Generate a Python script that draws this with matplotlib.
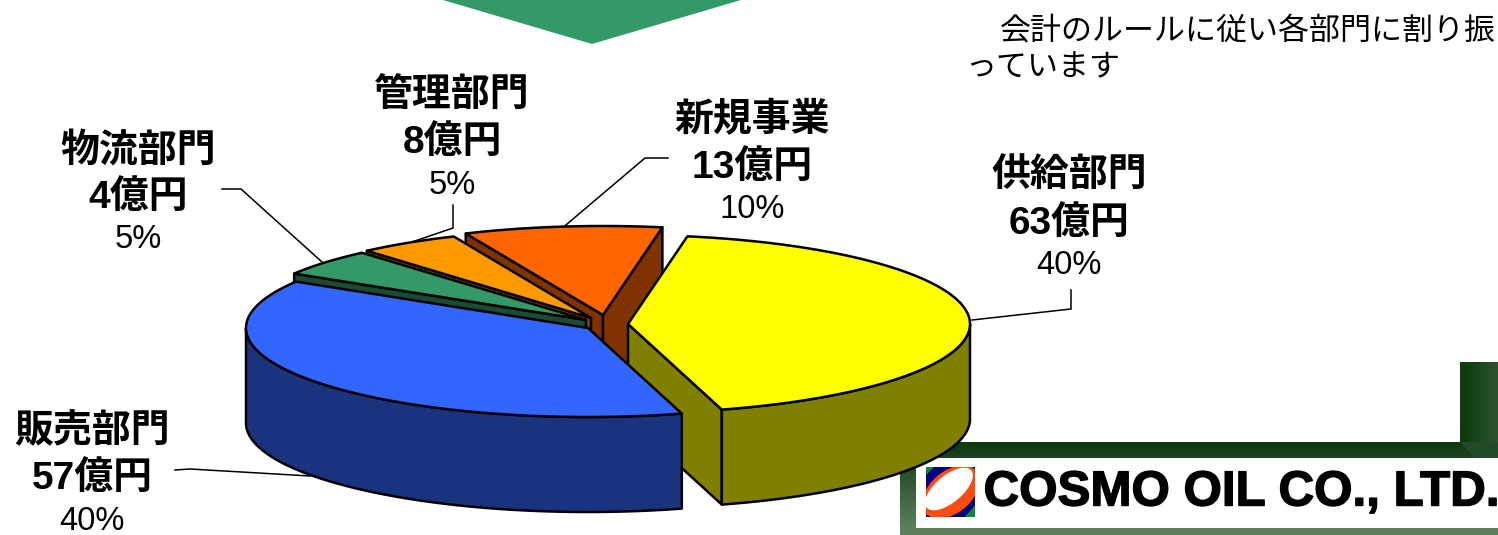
import numpy as np
import matplotlib
matplotlib.use("Agg")
import matplotlib.pyplot as plt
import matplotlib.patheffects as pe
from matplotlib.patches import Polygon, Rectangle, Ellipse

# --- data ---
names = ["供給部門", "販売部門", "物流部門", "管理部門", "新規事業"]
amounts = [63, 57, 4, 8, 13]
pct_labels = ["40%", "40%", "5%", "5%", "10%"]
slice_shares = [42.8, 38.15, 4.9, 4.8, 9.35]   # shares as drawn in the picture
note_lines = ["会計のルールに従い各部門に割り振", "っています"]
logo_text = "COSMO OIL CO., LTD."

# --- style / layout ---
top_cols = ["#FFFF00", "#3366FF", "#339966", "#FF9900", "#FF6600"]
side_cols = ["#808000", "#1A337F", "#1A4C33", "#804C00", "#803300"]
offsets = [(20, 2), (-20, 6), (-22, -2), (-17, -4), (-5, -7)]
label_xy = [(1069, 177), (92, 432), (138, 151), (452, 96), (752, 121)]
leaders = [[(1071, 290), (1071, 309), (972, 320)],
           [(175, 470), (190, 469), (310, 476)],
           [(222, 189), (241, 189), (322, 262)],
           [(453, 205), (453, 228), (409, 243)],
           [(668, 158), (645, 158), (560, 230)]]
draw_order = [4, 3, 2, 0, 1]
start_angle = 10.0
CX, CY, RX, RY, DEPTH = 608, 322, 342, 89, 95
LW = 1.8
FONT = ["Liberation Sans", "Noto Sans CJK JP"]

fig = plt.figure(figsize=(14.98, 5.35), dpi=100)
ax = fig.add_axes([0, 0, 1, 1])
ax.set_xlim(0, 1498)
ax.set_ylim(535, 0)
ax.axis("off")


def grad(x0, x1, y0, y1, c0, c1, vertical=False, z=1):
    t = np.linspace(0, 1, 64)
    a = np.array(matplotlib.colors.to_rgb(c0))
    b = np.array(matplotlib.colors.to_rgb(c1))
    arr = a[None, :] * (1 - t)[:, None] + b[None, :] * t[:, None]
    arr = arr[:, None, :] if vertical else arr[None, :, :]
    ax.imshow(arr, extent=(x0, x1, y1, y0), aspect="auto", zorder=z, interpolation="bilinear")


# green arrow tip
ax.add_patch(Polygon([(443, 0), (741, 0), (592, 44)], closed=True, fc="#339966", ec="none", zorder=1))

# logo frame
grad(1460, 1498, 362, 458, "#0A3A0A", "#2C5230", z=1)
grad(900, 1498, 442, 458, "#0B3A0B", "#1C4420", vertical=True, z=1.1)
ax.add_patch(Polygon([(1460, 442), (1498, 442), (1498, 458), (1475, 458)], closed=True,
                     fc="#234A28", ec="none", zorder=1.2))
grad(900, 916, 458, 528, "#1C4420", "#5C7F5C", vertical=True, z=1.1)
ax.add_patch(Rectangle((900, 528), 598, 7, fc="#5C7F5C", ec="none", zorder=1.1))
ax.add_patch(Rectangle((916, 458), 582, 70, fc="white", ec="none", zorder=1.2))

# logo mark
clip = Rectangle((926, 467), 49, 50, transform=ax.transData)
ax.add_patch(Rectangle((926, 467), 49, 50, fc="#000080", ec="none", zorder=1.3))
for pts in ([(926, 467), (934, 467), (926, 475)], [(975, 517), (965, 517), (975, 505)]):
    ax.add_patch(Polygon(pts, closed=True, fc="#0A8A3A", ec="none", zorder=1.35))
for (xy, w, h, c, z) in (((951, 492), 66, 42, "#FF4A10", 1.4), ((949, 489), 58, 27, "white", 1.5)):
    e = Ellipse(xy, w, h, angle=-40, fc=c, ec="none", zorder=z)
    ax.add_patch(e)
    e.set_clip_path(clip)
ax.text(1241, 493, logo_text, ha="center", va="center", fontsize=35.5, fontweight="bold",
        family="Liberation Sans", color="black", zorder=1.6,
        path_effects=[pe.withStroke(linewidth=1.0, foreground="black")])


# 3D pie
def pt(cx, cy, deg):
    r = np.radians(deg)
    return cx + RX * np.sin(r), cy - RY * np.cos(r)


edges = start_angle + np.cumsum([0] + [s * 3.6 for s in slice_shares])
for i in draw_order:
    a0, a1 = edges[i], edges[i + 1]
    cx, cy = CX + offsets[i][0], CY + offsets[i][1]
    th = np.linspace(a0, a1, 200)
    ax_, ay_ = pt(cx, cy, th)
    z = 3 + draw_order.index(i)
    # radial cut faces: only those whose outward normal points at the viewer
    for a, normal in ((a0, a0 - 90), (a1, a1 + 90)):
        if np.cos(np.radians(normal - 180)) <= 0:
            continue
        px, py = pt(cx, cy, a)
        ax.add_patch(Polygon([(cx, cy), (px, py), (px, py + DEPTH), (cx, cy + DEPTH)], closed=True,
                             fc=side_cols[i], ec="black", lw=LW, joinstyle="round", zorder=z))
    lo, hi = max(a0, 90), min(a1, 270)
    if hi > lo:
        rt = np.linspace(lo, hi, 200)
        rx_, ry_ = pt(cx, cy, rt)
        rim = list(zip(rx_, ry_)) + list(zip(rx_[::-1], ry_[::-1] + DEPTH))
        ax.add_patch(Polygon(rim, closed=True, fc=side_cols[i], ec="black", lw=LW,
                             joinstyle="round", zorder=z + 0.1))
    ax.add_patch(Polygon([(cx, cy)] + list(zip(ax_, ay_)), closed=True, fc=top_cols[i], ec="black",
                         lw=LW, joinstyle="round", zorder=z + 0.2))

# leaders
for line in leaders:
    xs, ys = zip(*line)
    ax.plot(xs, ys, color="black", lw=1.1, zorder=2, solid_joinstyle="miter")

# labels
for n, amt, p, (x, y) in zip(names, amounts, pct_labels, label_xy):
    ax.text(x, y, n, ha="center", va="center", fontsize=28, fontweight="bold", family=FONT, zorder=20)
    ax.text(x, y + 47, f"{amt}億円", ha="center", va="center", fontsize=28, family=FONT,
            fontweight="bold", zorder=20)
    ax.text(x, y + 89, p, ha="center", va="center", fontsize=23.5, family=FONT, zorder=20)

# note
ax.text(1000, 32, note_lines[0], ha="left", va="center", fontsize=22.3, family=FONT, zorder=20)
ax.text(965, 68, note_lines[1], ha="left", va="center", fontsize=22.3, family=FONT, zorder=20)

fig.savefig("out.png", dpi=100, facecolor="white")
